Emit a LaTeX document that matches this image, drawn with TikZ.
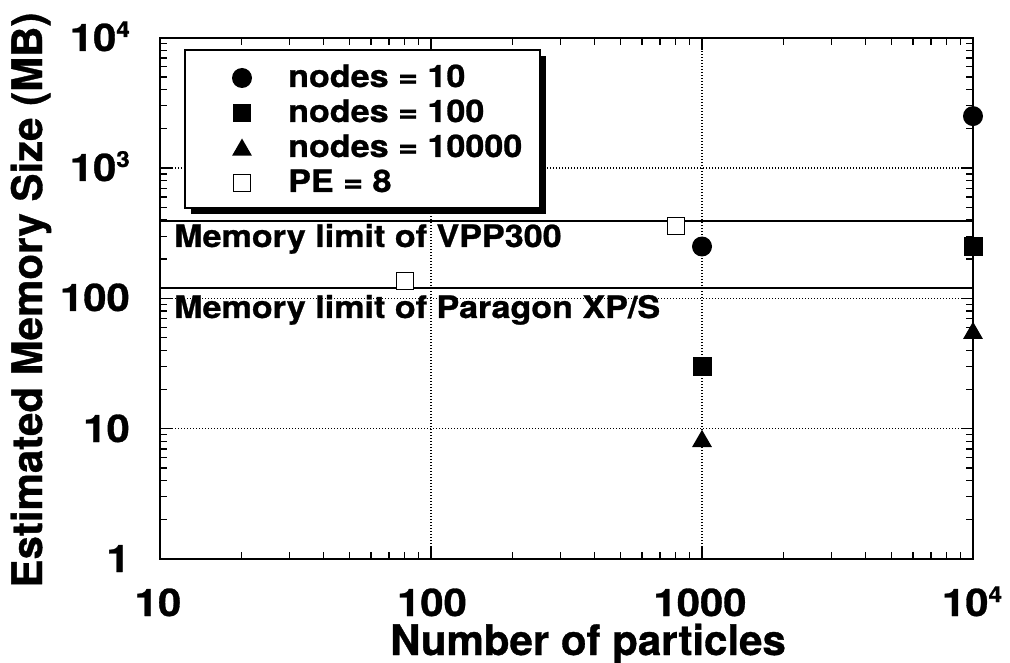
\documentclass[tikz,border=0pt]{standalone}
\usepackage{fontspec}
\usepackage{graphicx}
\setmainfont{TeX Gyre Heros}[BoldFeatures={FakeBold=0.8}]
\usetikzlibrary{shapes.geometric}
\newcommand\myexp[1]{\raisebox{14pt}{\fontsize{22}{22}\selectfont #1}}
\newcommand\wtxt[1]{\scalebox{1.1}[1]{#1}}
\begin{document}
\begin{tikzpicture}[x=1pt,y=-1pt,
  ticklab/.style={font=\fontsize{38}{38}\selectfont\bfseries, inner sep=0pt},
  ttl/.style={font=\fontsize{42}{42}\selectfont\bfseries, inner sep=0pt},
  leg/.style={font=\fontsize{31}{31}\selectfont\bfseries, inner sep=0pt, anchor=base west},
  gridline/.style={line width=1.2pt, dash pattern=on 1.4pt off 1.6pt},
  axisframe/.style={line width=2pt},
  tickline/.style={line width=1.3pt},
  limitline/.style={line width=1.5pt},
  fcirc/.style={circle, fill=black, inner sep=0pt, minimum size=20pt},
  fsq/.style={rectangle, fill=black, inner sep=0pt, minimum size=19pt},
  ftri/.style={regular polygon, regular polygon sides=3, fill=black, inner sep=0pt, minimum size=23pt},
  osq/.style={rectangle, draw=black, line width=1.2pt, fill=white, inner sep=0pt, minimum size=17pt},
]
\useasboundingbox (0,0) rectangle (1010,663);
\fill[white] (0,0) rectangle (1010,663);

% grid lines
\draw[gridline] (431,559) -- (431,38);
\draw[gridline, line width=1.7pt] (702,559) -- (702,38);
\draw[gridline] (160,428.7) -- (973,428.7);
\draw[gridline] (160,298.3) -- (973,298.3);
\draw[gridline] (160,168) -- (973,168);

% memory limit lines
\draw[limitline] (160,221) -- (973,221);
\draw[limitline] (160,288) -- (973,288);

% legend box with shadow
\fill[black] (191,56) rectangle (546,214);
\draw[line width=2pt, fill=white] (185,50) rectangle (540,208);

% axes frame
\draw[axisframe] (160,38) rectangle (973,559);

% minor ticks x
\foreach \d in {0,1,2}{
  \foreach \m in {2,...,9}{
    \pgfmathsetmacro\tx{160+271*(\d+log10(\m))}
    \draw[tickline] (\tx,559) -- (\tx,552);
    \draw[tickline] (\tx,38) -- (\tx,45);
  }
}
% minor ticks y
\foreach \d in {0,1,2,3}{
  \foreach \m in {2,...,9}{
    \pgfmathsetmacro\ty{559-130.33*(\d+log10(\m))}
    \draw[tickline] (160,\ty) -- (167,\ty);
    \draw[tickline] (973,\ty) -- (966,\ty);
  }
}
% major ticks
\foreach \ty in {428.7,298.3,168}{
  \draw[tickline] (160,\ty) -- (172,\ty);
  \draw[tickline] (973,\ty) -- (961,\ty);
}
\foreach \tx in {431,702}{
  \draw[tickline] (\tx,559) -- (\tx,547);
  \draw[tickline] (\tx,38) -- (\tx,50);
}

% limit labels
\node[leg] (vpp) at (174,247) {\wtxt{Memory limit of VPP300}};
\node[leg] (par) at (174,318) {\wtxt{Memory limit of Paragon XP/S}};

% legend entries
\node[fcirc] (lc) at (242,78) {};
\node[fsq, minimum size=18pt] (ls) at (242,113) {};
\node[ftri] (lt) at (242,150) {};
\node[osq] (lo) at (242,183) {};
\node[leg] (l1) at (288,87) {\wtxt{nodes = 10}};
\node[leg] (l2) at (288,122) {\wtxt{nodes = 100}};
\node[leg] (l3) at (288,157) {\wtxt{nodes = 10000}};
\node[leg] (l4) at (288,192) {\wtxt{PE = 8}};

% data points
\node[fcirc] (c1) at (702,246.5) {};
\node[fcirc] (c2) at (973,116.1) {};
\node[fsq] (s1) at (702,366.5) {};
\node[fsq] (s2) at (973,246.5) {};
\node[ftri] (t1) at (702,441.3) {};
\node[ftri] (t2) at (973,333.2) {};
\node[osq] (p1) at (404.7,281) {};
\node[osq] (p2) at (675.7,226) {};

% tick labels
\node[ticklab, anchor=base] (x1) at (158,616) {\wtxt{10}};
\node[ticklab, anchor=base] (x2) at (432,616) {\wtxt{100}};
\node[ticklab, anchor=base] (x3) at (700,616) {\wtxt{1000}};
\node[ticklab, anchor=base] (x4) at (972,616) {\wtxt{10\myexp{4}}};
\node[ticklab, anchor=base east] (y0) at (130,572) {\wtxt{1}};
\node[ticklab, anchor=base east] (y1) at (130,442) {\wtxt{10}};
\node[ticklab, anchor=base east] (y2) at (130,311) {\wtxt{100}};
\node[ticklab, anchor=base east] (y3) at (130,181) {\wtxt{10\myexp{3}}};
\node[ticklab, anchor=base east] (y4) at (130,51) {\wtxt{10\myexp{4}}};

% axis titles
\node[ttl, anchor=base] (xt) at (588,655) {Number of particles};
\node[ttl, anchor=base, rotate=90] (yt) at (42,300) {Estimated Memory Size (MB)};
\end{tikzpicture}
\end{document}
